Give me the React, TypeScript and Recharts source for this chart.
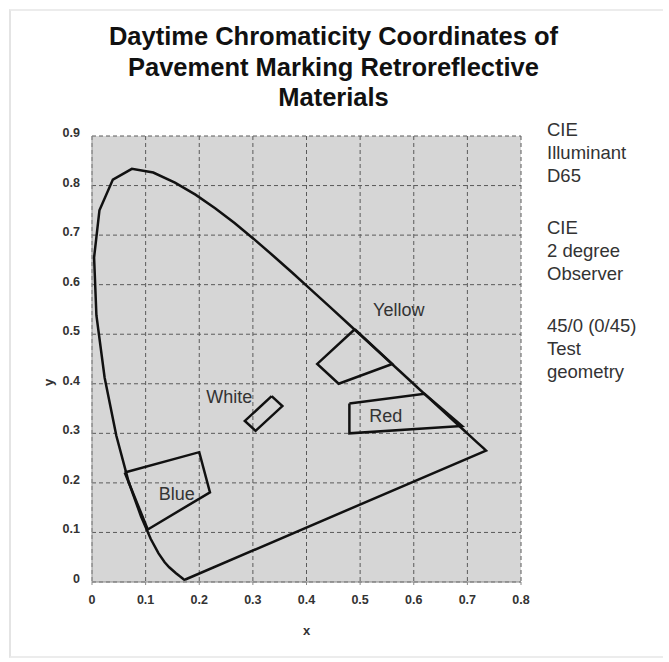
import React from 'react';
import { ScatterChart, Scatter, XAxis, YAxis, CartesianGrid } from 'recharts';

const xTicks = [0, 0.1, 0.2, 0.3, 0.4, 0.5, 0.6, 0.7, 0.8];
const yTicks = [0, 0.1, 0.2, 0.3, 0.4, 0.5, 0.6, 0.7, 0.8, 0.9];

// CIE 1931 2-degree spectral locus (closed by the purple line)
const locus = [
  { x: 0.1741, y: 0.005 }, { x: 0.1733, y: 0.0048 }, { x: 0.1714, y: 0.0051 },
  { x: 0.1644, y: 0.0109 }, { x: 0.1566, y: 0.0177 }, { x: 0.144, y: 0.0297 },
  { x: 0.1355, y: 0.0399 }, { x: 0.1241, y: 0.0578 }, { x: 0.1096, y: 0.0868 },
  { x: 0.0913, y: 0.1327 }, { x: 0.0687, y: 0.2007 }, { x: 0.0454, y: 0.295 },
  { x: 0.0235, y: 0.4127 }, { x: 0.0082, y: 0.5384 }, { x: 0.0039, y: 0.6548 },
  { x: 0.0139, y: 0.7502 }, { x: 0.0389, y: 0.812 }, { x: 0.0743, y: 0.8338 },
  { x: 0.1142, y: 0.8262 }, { x: 0.1547, y: 0.8059 }, { x: 0.1929, y: 0.7816 },
  { x: 0.2296, y: 0.7543 }, { x: 0.2658, y: 0.7243 }, { x: 0.3016, y: 0.6923 },
  { x: 0.3373, y: 0.6589 }, { x: 0.3731, y: 0.6245 }, { x: 0.4087, y: 0.5896 },
  { x: 0.4441, y: 0.5547 }, { x: 0.4788, y: 0.5202 }, { x: 0.5125, y: 0.4866 },
  { x: 0.5448, y: 0.4544 }, { x: 0.5752, y: 0.4242 }, { x: 0.6029, y: 0.3965 },
  { x: 0.627, y: 0.3725 }, { x: 0.6482, y: 0.3514 }, { x: 0.6658, y: 0.334 },
  { x: 0.6915, y: 0.3083 }, { x: 0.7079, y: 0.292 }, { x: 0.719, y: 0.2809 },
  { x: 0.73, y: 0.27 }, { x: 0.7347, y: 0.2653 }, { x: 0.1741, y: 0.005 },
];

const blue = [
  { x: 0.061, y: 0.221 }, { x: 0.2, y: 0.262 }, { x: 0.22, y: 0.181 },
  { x: 0.104, y: 0.106 }, { x: 0.061, y: 0.221 },
];
const white = [
  { x: 0.335, y: 0.375 }, { x: 0.355, y: 0.355 }, { x: 0.305, y: 0.305 },
  { x: 0.285, y: 0.325 }, { x: 0.335, y: 0.375 },
];
const yellow = [
  { x: 0.49, y: 0.51 }, { x: 0.56, y: 0.44 }, { x: 0.46, y: 0.4 },
  { x: 0.42, y: 0.44 }, { x: 0.49, y: 0.51 },
];
const red = [
  { x: 0.48, y: 0.36 }, { x: 0.62, y: 0.38 }, { x: 0.69, y: 0.315 },
  { x: 0.48, y: 0.3 }, { x: 0.48, y: 0.36 },
];

const regionLabels = [
  { x: 0.572, y: 0.548, text: 'Yellow' },
  { x: 0.256, y: 0.373, text: 'White' },
  { x: 0.548, y: 0.335, text: 'Red' },
  { x: 0.158, y: 0.177, text: 'Blue' },
];

const titleLines = [
  'Daytime Chromaticity Coordinates of',
  'Pavement Marking Retroreflective',
  'Materials',
];

const notes = [
  'CIE', 'Illuminant', 'D65', '',
  'CIE', '2 degree', 'Observer', '',
  '45/0 (0/45)', 'Test', 'geometry',
];

const fmt = (v: number) => (v === 0 ? '0' : v.toFixed(1));

const lineStyle = { stroke: '#111', strokeWidth: 2.5 };

const NoShape = () => <g />;

const FONT = "Arial, 'Liberation Sans', sans-serif";

const LabelShape = (p: any) => (
  <text
    x={p.cx}
    y={p.cy}
    textAnchor="middle"
    dominantBaseline="central"
    fontFamily={FONT}
    fontSize={18}
    fill="#333"
  >
    {p.payload.text}
  </text>
);

const YTick = (p: any) => (
  <text
    x={p.x}
    y={p.y - 3}
    textAnchor="end"
    dominantBaseline="central"
    fontFamily={FONT}
    fontSize={12.5}
    fontWeight="bold"
    fill="#333"
  >
    {fmt(p.payload.value)}
  </text>
);

const XTick = (p: any) => (
  <text
    x={p.x}
    y={p.y + 1}
    textAnchor="middle"
    dominantBaseline="central"
    fontFamily={FONT}
    fontSize={12.5}
    fontWeight="bold"
    fill="#333"
  >
    {fmt(p.payload.value)}
  </text>
);

export default function App() {
  return (
    <div
      style={{
        position: 'absolute',
        left: 0,
        top: 0,
        width: 669,
        height: 662,
        background: '#fff',
        fontFamily: FONT,
      }}
    >
      <div
        style={{
          position: 'absolute',
          left: 9,
          top: 9,
          width: 652,
          height: 645,
          borderLeft: '2px solid #e4e4e4',
          borderTop: '2px solid #ececec',
          borderBottom: '2px solid #ececec',
        }}
      />
      <div
        style={{
          position: 'absolute',
          left: 0,
          top: 21,
          width: 667,
          textAlign: 'center',
          fontWeight: 'bold',
          fontSize: 25.5,
          lineHeight: '30.5px',
          color: '#111',
        }}
      >
        {titleLines.map((t, i) => (
          <div key={i}>{t}</div>
        ))}
      </div>
      <div
        style={{
          position: 'absolute',
          left: 547,
          top: 118,
          fontSize: 18.5,
          lineHeight: '23px',
          color: '#333',
        }}
      >
        {notes.map((t, i) => (
          <div key={i} style={{ height: t === '' ? 29 : 23 }}>
            {t}
          </div>
        ))}
      </div>
      <div style={{ position: 'absolute', left: 0, top: 0 }}>
        <ScatterChart
          width={669}
          height={662}
          margin={{ top: 136, right: 148, bottom: 60, left: 62 }}
        >
          <CartesianGrid
            fill="#d6d6d6"
            stroke="#5a5a5a"
            strokeDasharray="4 3"
            strokeWidth={1}
            horizontalValues={yTicks}
            verticalValues={xTicks}
          />
          <XAxis
            type="number"
            dataKey="x"
            domain={[0, 0.8]}
            ticks={xTicks}
            interval={0}
            height={20}
            axisLine={{ stroke: '#888' }}
            tickLine={{ stroke: '#888' }}
            tickSize={3}
            tickMargin={14}
            tick={<XTick />}
            label={{
              value: 'x',
              position: 'insideBottom',
              offset: -33,
              fontFamily: FONT,
              fontSize: 13,
              fontWeight: 'bold',
              fill: '#333',
            }}
          />
          <YAxis
            type="number"
            dataKey="y"
            domain={[0, 0.9]}
            ticks={yTicks}
            interval={0}
            width={30}
            axisLine={{ stroke: '#999' }}
            tickLine={false}
            tickSize={0}
            tickMargin={12}
            tick={<YTick />}
            label={{
              value: 'y',
              angle: -90,
              position: 'insideLeft',
              offset: -14,
              dy: 27,
              fontFamily: FONT,
              fontSize: 13,
              fontWeight: 'bold',
              fill: '#333',
            }}
          />
          <Scatter data={locus} line={lineStyle} shape={<NoShape />} isAnimationActive={false} />
          <Scatter data={blue} line={lineStyle} shape={<NoShape />} isAnimationActive={false} />
          <Scatter data={white} line={lineStyle} shape={<NoShape />} isAnimationActive={false} />
          <Scatter data={yellow} line={lineStyle} shape={<NoShape />} isAnimationActive={false} />
          <Scatter data={red} line={lineStyle} shape={<NoShape />} isAnimationActive={false} />
          <Scatter data={regionLabels} shape={<LabelShape />} isAnimationActive={false} />
        </ScatterChart>
      </div>
    </div>
  );
}
